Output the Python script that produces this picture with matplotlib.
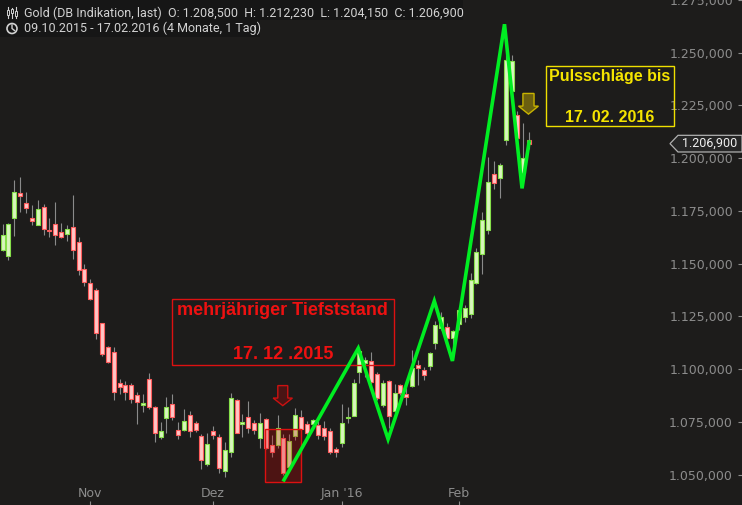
import numpy as np
import matplotlib.pyplot as plt
from matplotlib.patches import Rectangle, FancyArrow, Polygon, Ellipse
from matplotlib.transforms import blended_transform_factory

BG = "#1d1c1b"

# daily candles, 12.10.2015 - 17.02.2016 (x = trading day index)
opens = [1156.5, 1153.6, 1171.8, 1183.5, 1178.8, 1171.6, 1168.5, 1176.9, 1166.0, 1168.8,
         1165.0, 1164.2, 1167.4, 1160.3, 1147.5, 1140.7, 1137.5, 1121.7, 1110.5, 1108.2,
         1093.3, 1092.5, 1092.4, 1087.8, 1083.2, 1095.4, 1082.1, 1068.0, 1077.0, 1083.5,
         1071.2, 1071.2, 1078.3, 1074.5, 1068.3, 1055.2, 1070.7, 1067.9, 1051.9, 1060.9,
         1085.4, 1073.9, 1077.3, 1074.4, 1067.5, 1076.3, 1064.1, 1064.1, 1067.2, 1053.8,
         1068.3, 1077.2, 1074.0, 1073.9, 1073.4, 1072.0, 1070.6, 1062.2, 1065.2, 1077.0,
         1078.0, 1098.8, 1102.9, 1103.9, 1097.7, 1083.0, 1094.4, 1080.3, 1092.4, 1088.1,
         1092.0, 1102.0, 1099.6, 1101.5, 1112.3, 1119.4, 1120.0, 1114.9, 1121.3, 1124.9,
         1126.2, 1141.0, 1154.7, 1166.0, 1192.5, 1190.7, 1208.6, 1231.8, 1220.5, 1192.8,
         1208.5]
highs = [1168.7, 1169.3, 1189.7, 1191.1, 1183.9, 1177.8, 1180.2, 1178.3, 1171.6, 1179.2,
         1169.3, 1168.3, 1182.6, 1162.6, 1149.9, 1142.7, 1138.5, 1121.9, 1111.0, 1110.5,
         1095.4, 1094.5, 1093.6, 1089.2, 1088.2, 1098.2, 1082.6, 1075.0, 1086.9, 1088.2,
         1075.0, 1081.1, 1080.2, 1075.4, 1069.3, 1069.6, 1073.2, 1069.3, 1065.4, 1088.6,
         1085.9, 1078.8, 1084.9, 1075.9, 1079.2, 1076.9, 1068.8, 1078.3, 1069.3, 1069.3,
         1081.5, 1080.7, 1075.6, 1076.5, 1075.6, 1075.3, 1072.1, 1063.0, 1083.5, 1081.9,
         1095.2, 1110.4, 1105.9, 1108.1, 1098.8, 1094.9, 1094.9, 1093.0, 1092.8, 1094.1,
         1109.1, 1104.4, 1101.2, 1108.3, 1122.6, 1127.3, 1121.7, 1118.6, 1129.6, 1130.4,
         1145.7, 1157.4, 1174.5, 1200.7, 1198.7, 1197.6, 1253.6, 1248.9, 1222.4, 1216.5,
         1212.23]
lows = [1156.0, 1151.7, 1163.3, 1174.6, 1174.2, 1168.3, 1168.3, 1163.6, 1162.8, 1159.0,
        1162.2, 1160.9, 1152.4, 1144.8, 1139.6, 1133.0, 1114.4, 1106.4, 1102.9, 1085.5,
        1088.4, 1085.5, 1084.1, 1074.2, 1079.9, 1081.3, 1065.6, 1067.1, 1069.9, 1075.9,
        1067.1, 1070.7, 1068.0, 1070.2, 1052.7, 1054.1, 1066.8, 1050.7, 1049.0, 1058.5,
        1069.5, 1068.0, 1069.9, 1069.3, 1062.8, 1062.2, 1058.5, 1062.5, 1049.9, 1052.2,
        1066.4, 1068.0, 1067.7, 1072.7, 1066.8, 1066.4, 1059.7, 1058.5, 1063.3, 1074.4,
        1077.8, 1093.6, 1096.4, 1092.5, 1085.4, 1082.2, 1072.0, 1079.9, 1087.8, 1083.0,
        1091.7, 1092.5, 1094.9, 1099.6, 1109.6, 1118.6, 1113.8, 1111.0, 1118.6, 1122.5,
        1124.4, 1140.4, 1145.1, 1164.1, 1185.4, 1181.3, 1206.3, 1231.4, 1202.3, 1192.0,
        1204.15]
closes = [1163.6, 1168.8, 1184.0, 1182.2, 1176.5, 1170.4, 1176.0, 1166.6, 1165.6, 1163.7,
          1162.8, 1166.3, 1156.6, 1147.2, 1141.5, 1133.3, 1117.3, 1107.3, 1103.4, 1089.3,
          1091.7, 1089.3, 1086.0, 1084.6, 1083.8, 1082.2, 1069.9, 1070.6, 1081.9, 1077.5,
          1069.0, 1075.5, 1070.9, 1071.3, 1057.1, 1064.4, 1069.0, 1053.3, 1061.6, 1086.2,
          1069.9, 1075.0, 1072.3, 1071.3, 1074.5, 1062.5, 1060.9, 1072.0, 1050.7, 1066.0,
          1078.3, 1071.7, 1069.9, 1075.9, 1069.0, 1068.5, 1060.9, 1060.9, 1074.4, 1077.3,
          1093.3, 1108.6, 1104.5, 1093.7, 1086.2, 1093.3, 1078.0, 1088.6, 1088.6, 1087.0,
          1100.4, 1100.7, 1097.4, 1107.5, 1120.9, 1124.7, 1114.8, 1118.1, 1128.1, 1128.9,
          1142.3, 1155.5, 1170.7, 1188.7, 1188.4, 1196.8, 1246.5, 1246.0, 1209.4, 1200.1,
          1206.9]

month_ticks = [15, 36, 58, 78]
month_labels = ["Nov", "Dez", "Jan '16", "Feb"]
price_ticks = [1050, 1075, 1100, 1125, 1150, 1175, 1200, 1225, 1250, 1275]

# hand drawn zig-zag ("Pulsschläge")
zig_x = [48.1, 60.8, 65.9, 73.8, 76.9, 85.8, 88.8, 90.0]
zig_y = [1047.5, 1109.9, 1066.8, 1132.3, 1103.9, 1263.5, 1185.7, 1207.7]

last_price = 1206.9
header_1 = "Gold (DB Indikation, last)  O: 1.208,500  H: 1.212,230  L: 1.204,150  C: 1.206,900"
header_2 = "09.10.2015 - 17.02.2016 (4 Monate, 1 Tag)"


def de_fmt(v):
    s = f"{v:,.3f}"
    return s.replace(",", "X").replace(".", ",").replace("X", ".")


fig = plt.figure(figsize=(7.42, 5.05), dpi=100, facecolor=BG)
ax = fig.add_axes([0, 0, 1, 1], facecolor=BG)
plt.rcParams["font.family"] = ["Roboto", "DejaVu Sans"]

x = np.arange(len(opens))
o = np.array(opens)
h = np.array(highs)
l = np.array(lows)
c = np.array(closes)
up = c >= o
body = np.maximum(np.abs(c - o), 0.5)

ax.vlines(x, l, h, color="#8a8a8a", lw=0.8, zorder=2)
ax.bar(x[up], body[up], bottom=np.minimum(o, c)[up], width=0.68,
       color="#d8f6bd", edgecolor="#86df4a", lw=0.8, zorder=3)
ax.bar(x[~up], body[~up], bottom=np.minimum(o, c)[~up], width=0.68,
       color="#ffc6c6", edgecolor="#ff5c5c", lw=0.8, zorder=3)

# red highlight of the low
ax.add_patch(Rectangle((44.9, 1046.7), 6.07, 24.8, facecolor=(0.8, 0.0, 0.0, 0.28),
                       edgecolor="#dd1111", lw=1.0, zorder=4))
ax.add_patch(FancyArrow(47.9, 1092.2, 0, -9.5, width=1.7, head_width=3.3, head_length=3.6,
                        length_includes_head=True, facecolor="#4a1414", edgecolor="#cc1111",
                        lw=1.0, zorder=4))
ax.add_patch(Rectangle((29.0, 1101.85), 37.9, 31.25, fill=False,
                       edgecolor="#dd1111", lw=1.0, zorder=4))
ax.text(47.9, 1127.6, "mehrjähriger Tiefststand", color="#ee1111", fontsize=13,
        fontweight="bold", family="Liberation Sans", ha="center", va="center", zorder=5)
ax.text(47.9, 1107.1, "17. 12 .2015", color="#ee1111", fontsize=13,
        fontweight="bold", family="Liberation Sans", ha="center", va="center", zorder=5)

# yellow note
ax.add_patch(Rectangle((92.95, 1215.1), 21.75, 28.4, fill=False,
                       edgecolor="#f0e000", lw=1.0, zorder=4))
ax.text(103.8, 1238.5, "Pulsschläge bis", color="#f5e400", fontsize=11.5,
        fontweight="bold", family="Liberation Sans", ha="center", va="center", zorder=5)
ax.text(103.8, 1219.5, "17. 02. 2016", color="#f5e400", fontsize=11.5,
        fontweight="bold", family="Liberation Sans", ha="center", va="center", zorder=5)
ax.add_patch(FancyArrow(89.9, 1230.7, 0, -9.8, width=1.9, head_width=3.4, head_length=3.8,
                        length_includes_head=True, facecolor="#6b5f10", edgecolor="#c8b400",
                        lw=1.0, zorder=4))

ax.plot(zig_x, zig_y, color="#00ee22", lw=2.6, solid_joinstyle="miter", zorder=6)

ax.set_xlim(-0.44, 126.4)
ax.set_ylim(1035.6, 1275.0)
for s in ax.spines.values():
    s.set_visible(False)

ax.set_xticks(month_ticks)
ax.set_xticklabels(month_labels)
ax.tick_params(axis="x", direction="in", length=3, pad=-13, color="#8c8c8c",
               labelcolor="#8c8c8c", labelsize=9)

ax.yaxis.tick_right()
ax.set_yticks(price_ticks)
ax.set_yticklabels([de_fmt(v) for v in price_ticks])
ax.tick_params(axis="y", direction="in", length=3, pad=-6.5, color="#8c8c8c",
               labelcolor="#8c8c8c", labelsize=9)
for t in ax.get_yticklabels():
    t.set_ha("right")

# last price marker on the right
tr = blended_transform_factory(ax.transAxes, ax.transData)
ax.add_patch(Polygon([(670 / 742, last_price), (678 / 742, last_price + 3.95),
                      (1.0, last_price + 3.95), (1.0, last_price - 3.95),
                      (678 / 742, last_price - 3.95)], closed=True, transform=tr,
                     facecolor="#262626", edgecolor="#b0b0b0", lw=0.9, zorder=7))
ax.text(737 / 742, last_price, de_fmt(last_price), transform=tr, ha="right", va="center",
        color="#f0f0f0", fontsize=9, zorder=8)

# header
ax.add_patch(Rectangle((0, 1 - 20 / 505), 463 / 742, 20 / 505, transform=ax.transAxes,
                       facecolor="#161616", edgecolor="none", zorder=7))
ax.add_patch(Rectangle((0, 1 - 37 / 505), 260 / 742, 17 / 505, transform=ax.transAxes,
                       facecolor="#161616", edgecolor="none", zorder=7))
ax.text(24 / 742, 1 - 13 / 505, header_1, transform=ax.transAxes, ha="left", va="center",
        color="#d2d2d2", fontsize=9, zorder=8)
ax.text(24 / 742, 1 - 28.5 / 505, header_2, transform=ax.transAxes, ha="left", va="center",
        color="#d2d2d2", fontsize=9, zorder=8)
for px, y0, y1, b0, b1 in [(8, 7, 18, 10, 15), (12, 8, 18, 9, 13), (16, 7, 18, 11, 16)]:
    ax.plot([px / 742, px / 742], [1 - y0 / 505, 1 - y1 / 505], transform=ax.transAxes,
            color="#d2d2d2", lw=0.8, zorder=8)
    ax.add_patch(Rectangle(((px - 1.3) / 742, 1 - b1 / 505), 2.6 / 742, (b1 - b0) / 505,
                           transform=ax.transAxes, facecolor="#161616",
                           edgecolor="#d2d2d2", lw=0.7, zorder=9))
ax.add_patch(Ellipse((12 / 742, 1 - 28.5 / 505), 10 / 742, 10 / 505, transform=ax.transAxes,
                     fill=False, edgecolor="#d2d2d2", lw=1.2, zorder=8))
ax.plot([12 / 742, 12 / 742, 14.5 / 742], [1 - 25 / 505, 1 - 28.5 / 505, 1 - 30.5 / 505],
        transform=ax.transAxes, color="#d2d2d2", lw=1.0, zorder=8)

fig.savefig("out.png", dpi=100, facecolor=BG)
